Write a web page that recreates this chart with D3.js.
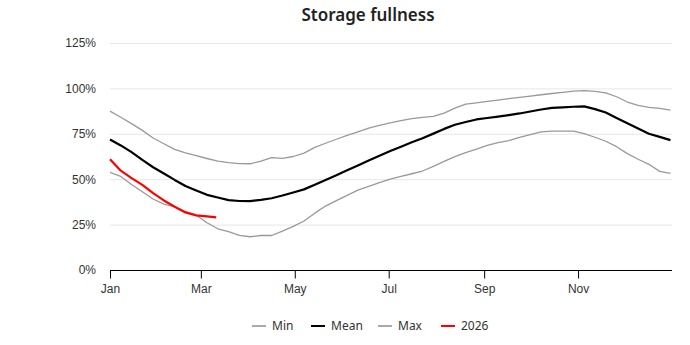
<!doctype html>
<html lang="en">
<head>
<meta charset="utf-8">
<title>Storage fullness</title>
<style>
  * { margin: 0; padding: 0; border: 0; }
  body { background: #fff; font-family: 'Noto Sans', sans-serif; }
  .grid line { stroke: #e6e6e6; stroke-width: 1px; }
  .axis text { fill: #333; font-size: 12px; }
  path.series { fill: none; stroke-linejoin: round; }
</style>
</head>
<body>
<div id="chart"></div>
<script src="https://d3js.org/d3.v7.min.js"></script>
<script>
  // day-of-year, one point per week
  var days = d3.range(0, 365, 7);

  var minVals = [53.7, 51.5, 47.1, 43.1, 39.1, 36.3, 34.8, 32.1, 30.2, 26.0,
    22.7, 21.1, 19.1, 18.3, 19.0, 19.0, 21.4, 24.0, 27.0, 31.3,
    35.2, 38.2, 41.1, 44.0, 46.1, 48.1, 50.0, 51.5, 53.0, 54.5,
    57.1, 59.8, 62.4, 64.6, 66.6, 68.6, 70.1, 71.3, 73.0, 74.6,
    76.1, 76.5, 76.5, 76.5, 75.1, 73.1, 70.9, 67.9, 64.1, 61.0,
    58.2, 54.3, 53.2];

  var meanVals = [71.9, 68.6, 64.9, 60.6, 56.6, 53.1, 49.6, 46.3, 43.8, 41.4,
    39.9, 38.5, 38.0, 37.9, 38.6, 39.5, 41.0, 42.7, 44.4, 47.0,
    49.6, 52.2, 54.9, 57.6, 60.3, 62.9, 65.5, 67.9, 70.3, 72.6,
    75.1, 77.7, 80.0, 81.5, 82.9, 83.7, 84.5, 85.3, 86.2, 87.3,
    88.4, 89.3, 89.6, 89.9, 90.1, 88.6, 86.7, 83.7, 80.8, 77.9,
    75.0, 73.3, 71.5];

  var maxVals = [87.5, 84.1, 80.6, 76.9, 72.7, 69.5, 66.4, 64.5, 63.0, 61.4,
    59.9, 59.1, 58.6, 58.5, 59.9, 61.9, 61.5, 62.5, 64.4, 67.5,
    69.8, 72.0, 74.1, 76.1, 78.1, 79.6, 81.0, 82.2, 83.3, 84.0,
    84.6, 86.4, 89.1, 91.3, 92.0, 92.8, 93.6, 94.4, 95.1, 95.8,
    96.5, 97.2, 97.8, 98.5, 98.8, 98.4, 97.5, 95.4, 92.5, 90.6,
    89.6, 89.0, 88.0];

  var days2026 = [0, 7, 14, 21, 28, 35, 42, 49, 56, 63, 69];
  var vals2026 = [61.0, 54.7, 50.6, 46.9, 42.3, 38.3, 34.8, 31.7, 30.1, 29.5, 29.0];

  var monthTicks = [0, 59, 120, 181, 243, 304];
  var monthLabels = ["Jan", "Mar", "May", "Jul", "Sep", "Nov"];
  var yTicks = [0, 25, 50, 75, 100, 125];

  var seriesNames = ["Min", "Mean", "Max", "2026"];
  var seriesColors = ["#999999", "#000000", "#999999", "#ff0000"];
  var seriesWidths = [1.3, 2.2, 1.3, 2.2];

  var width = 690, height = 345;
  var svg = d3.select("#chart").append("svg")
    .attr("width", width).attr("height", height);

  var x = d3.scaleLinear().domain([0, 365]).range([110, 672]);
  var y = d3.scaleLinear().domain([0, 125]).range([270, 43]);

  svg.append("text")
    .attr("x", 368).attr("y", 21)
    .attr("text-anchor", "middle")
    .style("font-size", "17px").style("font-weight", "600").style("fill", "#222")
    .text("Storage fullness");

  // gridlines
  svg.append("g").attr("class", "grid")
    .selectAll("line").data(yTicks.filter(d => d > 0)).join("line")
    .attr("x1", x.range()[0]).attr("x2", x.range()[1])
    .attr("y1", d => y(d) + 0.5).attr("y2", d => y(d) + 0.5);

  var yAxis = d3.axisLeft(y).tickValues(yTicks).tickSize(0).tickPadding(14)
    .tickFormat(d => d + "%");
  svg.append("g").attr("class", "axis")
    .attr("transform", "translate(110,0)")
    .call(yAxis)
    .call(g => g.select(".domain").remove());

  var xAxis = d3.axisBottom(x).tickValues(monthTicks).tickSize(8).tickPadding(6)
    .tickFormat((d, i) => monthLabels[i]);
  svg.append("g").attr("class", "axis")
    .attr("transform", "translate(0," + (y(0) + 0.5) + ")")
    .call(xAxis)
    .call(g => g.select(".domain").attr("stroke", "#000").attr("d", "M" + x.range()[0] + ",0H" + x.range()[1]))
    .call(g => g.selectAll(".tick line").attr("stroke", "#000"));

  var line = d3.line().x(d => x(d[0])).y(d => y(d[1]));

  var data = [
    days.map((d, i) => [d, minVals[i]]),
    days.map((d, i) => [d, meanVals[i]]),
    days.map((d, i) => [d, maxVals[i]]),
    days2026.map((d, i) => [d, vals2026[i]])
  ];

  data.forEach(function(s, i) {
    svg.append("path").attr("class", "series")
      .attr("d", line(s))
      .style("stroke", seriesColors[i])
      .style("stroke-width", seriesWidths[i]);
  });

  // legend
  var legendX = [252, 311, 378, 441];
  var legend = svg.append("g").attr("transform", "translate(0,326)");
  var items = legend.selectAll("g").data(seriesNames).join("g")
    .attr("transform", (d, i) => "translate(" + legendX[i] + ",0)");
  items.append("line")
    .attr("x1", 0).attr("x2", 14).attr("y1", 0).attr("y2", 0)
    .style("stroke", (d, i) => i === 1 || i === 3 ? seriesColors[i] : "#aaa")
    .style("stroke-width", 2);
  items.append("text")
    .attr("x", 20).attr("y", 0).attr("dy", "0.35em")
    .style("font-size", "12px").style("fill", "#333")
    .text(d => d);
</script>
</body>
</html>
